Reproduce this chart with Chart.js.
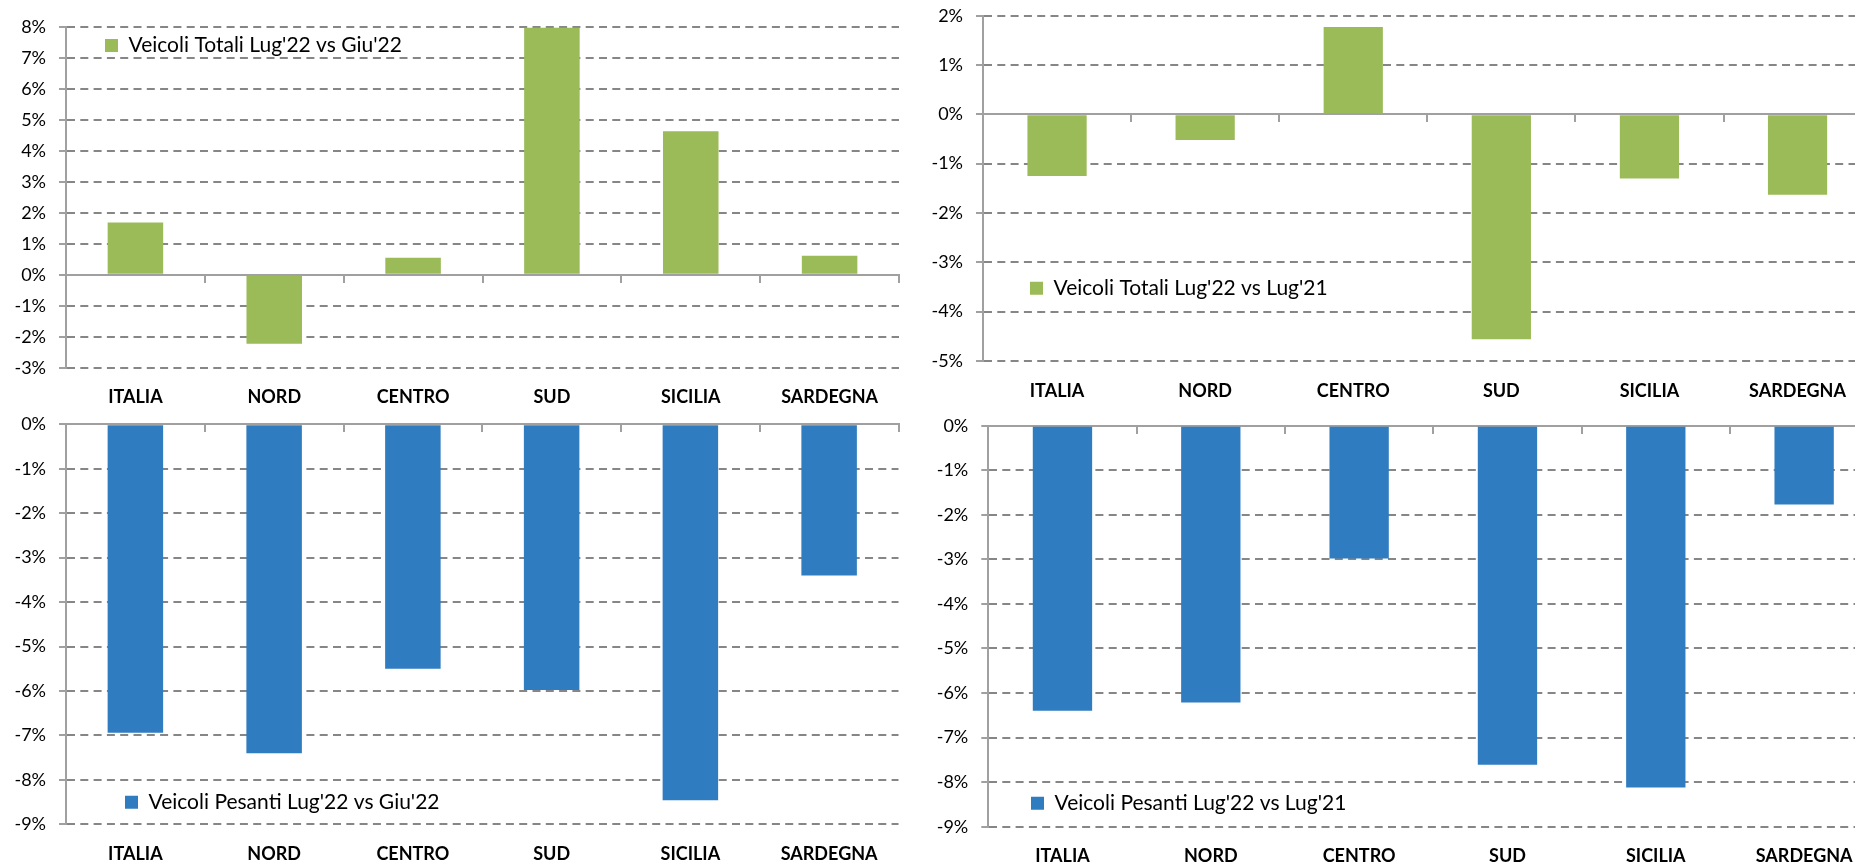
<!DOCTYPE html>
<html><head><meta charset="utf-8">
<script src="https://cdn.jsdelivr.net/npm/chart.js@4/dist/chart.umd.min.js"></script>
<style>
html,body{margin:0;padding:0;background:#fff;width:1855px;height:862px;overflow:hidden;position:relative}
canvas{position:absolute}
</style></head><body>
<canvas id="c1"></canvas><canvas id="c2"></canvas><canvas id="c3"></canvas><canvas id="c4"></canvas>
<script>
// ---- data ----
const categories = ['ITALIA','NORD','CENTRO','SUD','SICILIA','SARDEGNA'];
const totaliMese = [1.68, -2.23, 0.55, 7.97, 4.63, 0.61];      // Lug'22 vs Giu'22
const totaliAnno = [-1.25, -0.52, 1.77, -4.56, -1.30, -1.63];  // Lug'22 vs Lug'21
const pesantiMese = [-6.94, -7.40, -5.50, -5.98, -8.46, -3.40];
const pesantiAnno = [-6.40, -6.21, -2.98, -7.61, -8.12, -1.77];
const rangeTotaliMese = [-3, 8];
const rangeTotaliAnno = [-5, 2];
const rangePesantiMese = [-9, 0];
const rangePesantiAnno = [-9, 0];
const seriesNames = ["Veicoli Totali Lug'22 vs Giu'22", "Veicoli Totali Lug'22 vs Lug'21",
  "Veicoli Pesanti Lug'22 vs Giu'22", "Veicoli Pesanti Lug'22 vs Lug'21"];

const GREEN = '#9BBB59', BLUE = '#307CC0';
const GRID = '#868686', AXIS = '#a0a0a0';
const FONT = 'Lato, "Open Sans", sans-serif';
const LEGEND_SIZE = 21;

const legendPlace = {
  id: 'legendPlace',
  afterLayout(chart, args, opts) {
    const lg = chart.legend; if (!lg) return;
    const pad = chart.options.plugins.legend.labels.padding;
    lg.left = opts.x - pad;
    lg.top = opts.y - LEGEND_SIZE / 2 - pad;
    lg.right = chart.width; lg.bottom = chart.height;
    lg.width = lg.right - lg.left; lg.height = lg.bottom - lg.top;
  }
};

function make(id, box, values, range, color, name, leg) {
  const cv = document.getElementById(id);
  cv.width = box.w; cv.height = box.h;
  cv.style.left = box.x + 'px'; cv.style.top = box.y + 'px';
  const xH = box.h - box.B;
  new Chart(cv, {
    type: 'bar',
    data: { labels: categories, datasets: [{ label: name, data: values, backgroundColor: color,
      borderWidth: 0, barPercentage: 0.4, categoryPercentage: 1.0, xAxisID: 'x', yAxisID: 'y' }] },
    plugins: [legendPlace],
    options: {
      responsive: false, animation: false, devicePixelRatio: 1,
      layout: { padding: { left: 0, top: box.T, right: box.w - box.R, bottom: 0 } },
      plugins: {
        tooltip: { enabled: false },
        legendPlace: leg,
        legend: { position: 'chartArea', align: 'start',
          labels: { boxWidth: 13, boxHeight: 13, padding: 10, color: '#000',
            font: { family: FONT, size: LEGEND_SIZE } } }
      },
      scales: {
        x: { type: 'category', position: 'bottom', offset: true,
          grid: { display: false, drawTicks: false, offset: true }, border: { display: false },
          ticks: { color: '#000', padding: 19, font: { family: FONT, size: 18, weight: 'bold' }, maxRotation: 0 },
          afterFit: s => { s.height = xH; s.paddingLeft = 0; s.paddingRight = 0; } },
        xz: { type: 'category', position: { y: 0 }, offset: true,
          grid: { display: true, drawOnChartArea: false, drawTicks: true, tickLength: 7, offset: true,
            color: AXIS, tickColor: AXIS, lineWidth: 2, tickWidth: 2 },
          border: { display: true, color: AXIS, width: 2 },
          ticks: { display: false },
          afterFit: s => { s.height = 0; s.paddingLeft = 0; s.paddingRight = 0; } },
        y: { type: 'linear', min: range[0], max: range[1],
          ticks: { stepSize: 1, padding: 13, color: '#000', font: { family: FONT, size: 18 },
            callback: v => v + '%' },
          grid: { color: c => (c.tick && c.tick.value === 0) ? AXIS : GRID, lineWidth: 2,
            drawTicks: true, tickLength: 7, tickColor: AXIS, tickWidth: 2 },
          border: { display: true, color: AXIS, width: 2,
            dash: c => (c.tick && c.tick.value !== 0) ? [8, 5.3] : [] },
          afterFit: s => { s.width = box.L; s.paddingTop = 0; s.paddingBottom = 0; } }
      }
    }
  });
}

make('c1', {x:0, y:0, w:920, h:410, L:66, T:26.7, R:899, B:367.7}, totaliMese, rangeTotaliMese, GREEN, seriesNames[0], {x:105, y:45.5});
make('c2', {x:900, y:0, w:1000, h:410, L:83, T:15.7, R:971.6, B:361}, totaliAnno, rangeTotaliAnno, GREEN, seriesNames[1], {x:130, y:288.3});
make('c3', {x:0, y:410, w:920, h:452, L:66, T:14.3, R:898.5, B:414.3}, pesantiMese, rangePesantiMese, BLUE, seriesNames[2], {x:125, y:392.3});
make('c4', {x:900, y:410, w:1000, h:452, L:88.3, T:15.7, R:978.3, B:416.7}, pesantiAnno, rangePesantiAnno, BLUE, seriesNames[3], {x:131, y:393.3});
</script>
</body></html>
